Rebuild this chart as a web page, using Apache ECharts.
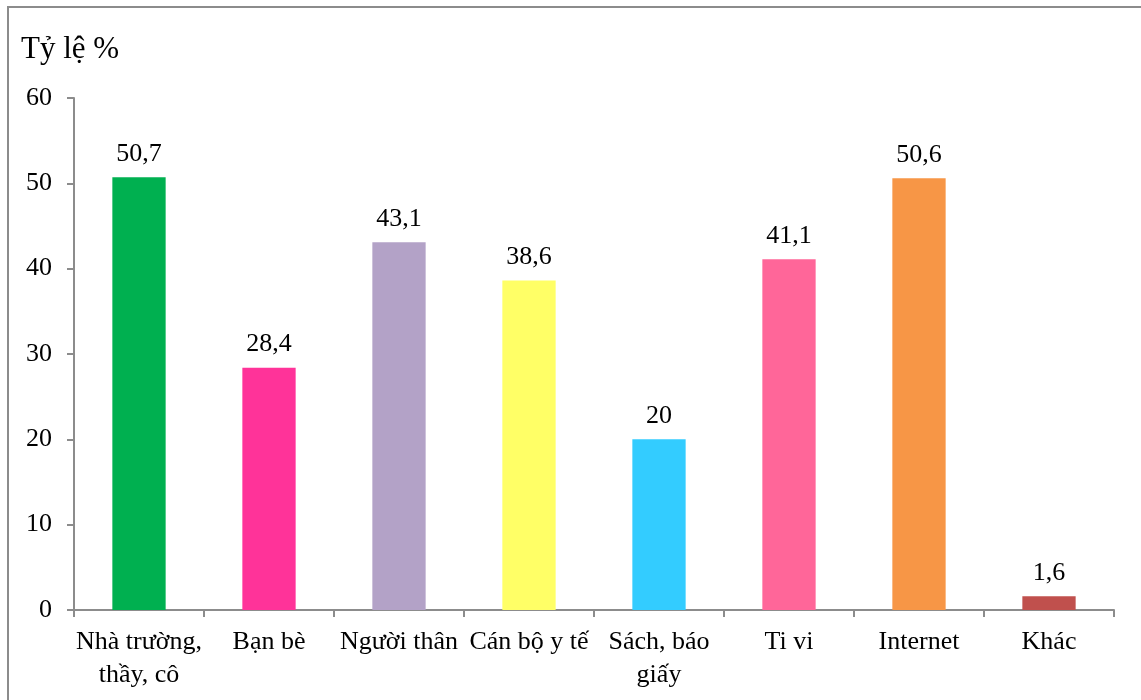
<!DOCTYPE html>
<html>
<head>
<meta charset="utf-8">
<script src="https://cdn.jsdelivr.net/npm/echarts@6/dist/echarts.min.js"></script>
<style>
  html, body { margin: 0; padding: 0; background: #fff; }
  #chart { width: 1141px; height: 700px; }
</style>
</head>
<body>
<div id="chart"></div>
<script>
const categories = ['Nhà trường,\nthầy, cô', 'Bạn bè', 'Người thân', 'Cán bộ y tế', 'Sách, báo\ngiấy', 'Ti vi', 'Internet', 'Khác']
const values = [50.7, 28.4, 43.1, 38.6, 20, 41.1, 50.6, 1.6]
const barColors = ['#00B050', '#FF3399', '#B3A2C7', '#FFFF66', '#33CCFF', '#FF6699', '#F79646', '#C0504D']

const font = 'Liberation Serif, Times New Roman, serif'
const axisColor = '#8c8c8c'

const chart = echarts.init(document.getElementById('chart'))
chart.setOption({
  backgroundColor: '#fff',
  animation: false,
  textStyle: { fontFamily: font },
  title: {
    text: 'Tỷ lệ %',
    left: 16,
    top: 29,
    textStyle: { fontFamily: font, fontWeight: 'normal', fontSize: 31, color: '#000' }
  },
  graphic: [{
    type: 'rect',
    shape: { x: 8, y: 7, width: 1200, height: 800 },
    style: { fill: null, stroke: axisColor, lineWidth: 2 },
    silent: true
  }],
  grid: { left: 74, right: 27, top: 98, bottom: 90 },
  xAxis: {
    type: 'category',
    data: categories,
    axisLine: { lineStyle: { color: axisColor, width: 2 } },
    axisTick: { show: true, length: 7, lineStyle: { color: axisColor, width: 2 } },
    axisLabel: { color: '#000', fontSize: 26, fontFamily: font, margin: 16, lineHeight: 33, interval: 0 }
  },
  yAxis: {
    type: 'value',
    min: 0,
    max: 60,
    interval: 10,
    axisLine: { show: true, lineStyle: { color: axisColor, width: 2 } },
    axisTick: { show: true, length: 7, lineStyle: { color: axisColor, width: 2 } },
    splitLine: { show: false },
    axisLabel: { color: '#000', fontSize: 26, fontFamily: font, margin: 22 }
  },
  series: [{
    type: 'bar',
    barWidth: '41%',
    data: values.map((v, i) => ({ value: v, itemStyle: { color: barColors[i] } })),
    label: {
      show: true,
      position: 'top',
      distance: 10,
      color: '#000',
      fontSize: 26,
      fontFamily: font,
      formatter: p => String(p.value).replace('.', ',')
    }
  }]
})
</script>
</body>
</html>
